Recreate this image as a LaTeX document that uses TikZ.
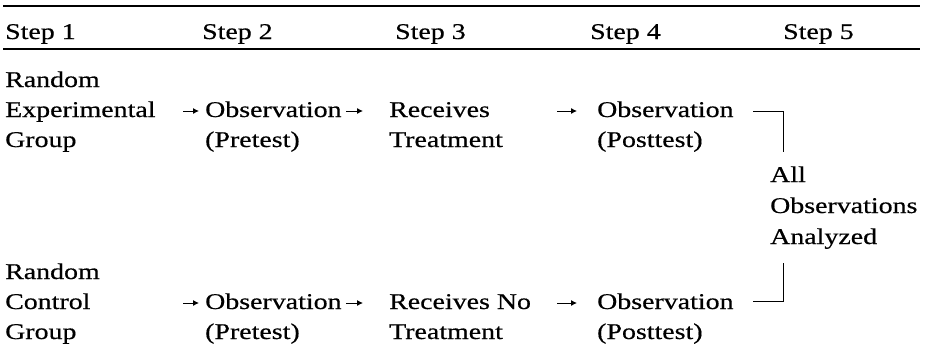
\documentclass[tikz,border=0pt]{standalone}
\usepackage{fontspec}
\setmainfont[FakeStretch=1.24,FakeBold=0.5]{Liberation Serif}
\usetikzlibrary{arrows.meta}
\begin{document}
\begin{tikzpicture}[x=1pt,y=-1pt,
  txt/.style={anchor=base west,inner sep=0pt,font=\fontsize{22.5}{27}\selectfont,text height=16pt,text depth=4pt},
  rule/.style={line width=1.3pt},
  arr/.style={line width=0.9pt,-{Latex[length=6pt,width=6pt]}},
  brk/.style={line width=1pt}]
\useasboundingbox (0,0) rectangle (929,349);
% rules
\coordinate (r1a) at (3,6); \coordinate (r1b) at (920,6);
\coordinate (r2a) at (3,49); \coordinate (r2b) at (920,49);
\draw[rule] (r1a) -- (r1b);
\draw[rule] (r2a) -- (r2b);
% header
\node[txt] (s1) at (5,39) {Step 1};
\node[txt] (s2) at (202,39) {Step 2};
\node[txt] (s3) at (395,39) {Step 3};
\node[txt] (s4) at (590,39) {Step 4};
\node[txt] (s5) at (783,39) {Step 5};
% experimental row
\node[txt] (ea) at (5,87) {Random};
\node[txt] (eb) at (5,117) {Experimental};
\node[txt] (ec) at (5,147) {Group};
\node[txt] (oa1) at (205,117) {Observation};
\node[txt] (oa2) at (205,147) {(Pretest)};
\node[txt] (ta1) at (389,117) {Receives};
\node[txt] (ta2) at (389,147) {Treatment};
\node[txt] (pa1) at (597,117) {Observation};
\node[txt] (pa2) at (597,147) {(Posttest)};
% control row
\node[txt] (ca) at (5,279) {Random};
\node[txt] (cb) at (5,309) {Control};
\node[txt] (cc) at (5,339) {Group};
\node[txt] (ob1) at (205,309) {Observation};
\node[txt] (ob2) at (205,339) {(Pretest)};
\node[txt] (tb1) at (389,309) {Receives No};
\node[txt] (tb2) at (389,339) {Treatment};
\node[txt] (pb1) at (597,309) {Observation};
\node[txt] (pb2) at (597,339) {(Posttest)};
% analysis
\node[txt] (an1) at (770,182) {All};
\node[txt] (an2) at (770,213) {Observations};
\node[txt] (an3) at (770,244) {Analyzed};
% arrows
\draw[arr] ([xshift=-22pt]oa1.west) -- ([xshift=-6pt]oa1.west);
\draw[arr] ([xshift=-43pt]ta1.west) -- ([xshift=-26pt]ta1.west);
\draw[arr] ([xshift=-40pt]pa1.west) -- ([xshift=-20pt]pa1.west);
\draw[arr] ([xshift=-22pt]ob1.west) -- ([xshift=-6pt]ob1.west);
\draw[arr] ([xshift=-43pt]tb1.west) -- ([xshift=-26pt]tb1.west);
\draw[arr] ([xshift=-40pt]pb1.west) -- ([xshift=-20pt]pb1.west);
% brackets
\coordinate (ua) at (753,111); \coordinate (uc) at (783,111); \coordinate (ue) at (783,152);
\coordinate (la) at (753,301); \coordinate (lc) at (783,301); \coordinate (le) at (783,263);
\draw[brk] (ua) -- (uc) -- (ue);
\draw[brk] (le) -- (lc) -- (la);
\end{tikzpicture}
\end{document}
